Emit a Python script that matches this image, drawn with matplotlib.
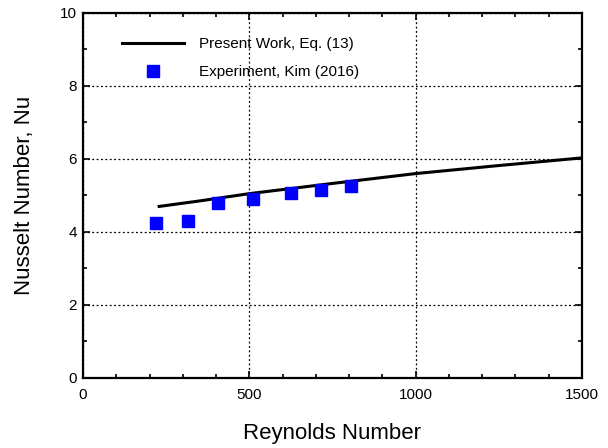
import numpy as np
import matplotlib
matplotlib.use('Agg')
from matplotlib import pyplot as plt
from matplotlib.ticker import MultipleLocator

plt.rcParams['font.family'] = ['Liberation Sans', 'DejaVu Sans']

# present work, Eq. (13)
re_model = [229, 350, 500, 750, 1000, 1250, 1500]
nu_model = [4.70, 4.85, 5.05, 5.33, 5.60, 5.82, 6.03]

# experiment, Kim (2016)
re_exp = [219, 315, 406, 511, 625, 715, 805]
nu_exp = [4.24, 4.30, 4.80, 4.90, 5.06, 5.15, 5.27]

fig = plt.figure(figsize=(6.08, 4.48), dpi=100)
ax = fig.add_axes([0.1365, 0.1563, 0.8205, 0.8147])

ax.plot(re_model, nu_model, color='black', lw=2.2, label='Present Work, Eq. (13)')
ax.plot(re_exp, nu_exp, 's', color='#0000ff', ms=8, mec='#0000ff',
        label='Experiment, Kim (2016)')

ax.set_xlim(0, 1500)
ax.set_ylim(0, 10)
ax.xaxis.set_major_locator(MultipleLocator(500))
ax.xaxis.set_minor_locator(MultipleLocator(100))
ax.yaxis.set_major_locator(MultipleLocator(2))
ax.yaxis.set_minor_locator(MultipleLocator(1))
ax.tick_params(which='both', direction='in', top=True, right=True, width=1.2,
               labelsize=11)
ax.tick_params(which='major', length=5)
ax.tick_params(which='minor', length=3)
ax.tick_params(axis='x', pad=7.5)
ax.tick_params(axis='y', pad=4.5)
for s in ax.spines.values():
    s.set_linewidth(1.6)

ax.grid(which='major', color='black', ls=(0, (1.5, 2)), lw=0.9)

ax.set_xlabel('Reynolds Number', fontsize=16, labelpad=15)
ax.set_ylabel('Nusselt Number, Nu', fontsize=16, labelpad=18)

leg = ax.legend(loc='upper left', frameon=False, fontsize=11,
                bbox_to_anchor=(0.065, 0.95), borderaxespad=0,
                handlelength=4.1, handletextpad=1.0, labelspacing=0.9)

plt.savefig('out.png', dpi=100)
